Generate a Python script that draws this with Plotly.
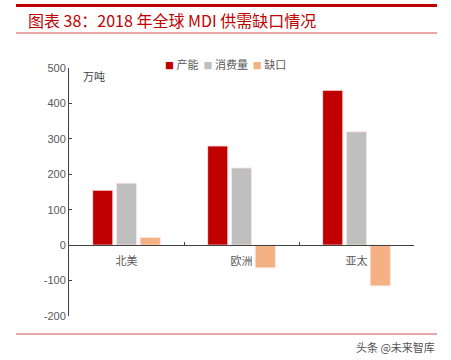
import plotly.graph_objects as go

categories = ["北美", "欧洲", "亚太"]
series_names = ["产能", "消费量", "缺口"]
capacity = [155, 280, 437]
consumption = [175, 218, 320]
gap = [22, -64, -115]
series_values = [capacity, consumption, gap]
colors = ["#C00000", "#BFBFBF", "#F4B183"]
y_ticks = [-200, -100, 0, 100, 200, 300, 400, 500]
y_tick_labels = ["-200", "-100", "0", "100", "200", "300", "400", "500"]

W, H = 451, 360
L, R, T, B = 69, 37, 68, 44
pw, ph = W - L - R, H - T - B

def px(x):
    return (x - L) / pw

def py(y):
    return (H - B - y) / ph

fig = go.Figure()
for name, vals, c in zip(series_names, series_values, colors):
    fig.add_trace(go.Bar(x=categories, y=vals, name=name,
                         marker=dict(color=c, line=dict(color="rgba(255,230,230,0.9)", width=1))))

ymin, ymax = y_ticks[0], y_ticks[-1]
fig.update_layout(
    width=W, height=H,
    margin=dict(l=L, r=R, t=T, b=B),
    paper_bgcolor="white", plot_bgcolor="white",
    barmode="group", bargap=0.38, bargroupgap=0.15,
    showlegend=False,
    font=dict(family="Noto Sans CJK SC, Liberation Sans, sans-serif", color="#595959"),
    xaxis=dict(anchor="free", position=(0 - ymin) / (ymax - ymin),
               showline=True, linecolor="#404040", linewidth=1,
               ticks="inside", ticklen=3, tickcolor="#404040", tickson="boundaries",
               ticklabelstandoff=6,
               tickfont=dict(size=11, color="#595959"), showgrid=False),
    yaxis=dict(range=[ymin, ymax], tickvals=y_ticks, ticktext=y_tick_labels,
               showline=True, linecolor="#404040",
               linewidth=1, ticks="inside", ticklen=3, tickcolor="#404040",
               showgrid=False, zeroline=False,
               tickfont=dict(size=11, family="Liberation Sans, Arial, sans-serif", color="#595959")),
)

# Title and decorative lines
fig.add_annotation(xref="paper", yref="paper", x=px(26), y=py(20), xanchor="left", yanchor="middle",
                   text="图表 38：2018 年全球 MDI 供需缺口情况", showarrow=False,
                   font=dict(size=16, color="#C00000", family="Noto Sans CJK SC"))
fig.add_shape(type="line", xref="paper", yref="paper", x0=px(16), x1=px(437), y0=py(5.5), y1=py(5.5),
              line=dict(color="#C00000", width=3))
fig.add_shape(type="line", xref="paper", yref="paper", x0=px(16), x1=px(437), y0=py(33), y1=py(33),
              line=dict(color="#D05050", width=1))
fig.add_shape(type="line", xref="paper", yref="paper", x0=px(16), x1=px(437), y0=py(334), y1=py(334),
              line=dict(color="#D05050", width=1))

# Unit label
fig.add_annotation(xref="paper", yref="paper", x=px(81), y=py(76), xanchor="left", yanchor="middle",
                   text="万吨", showarrow=False, font=dict(size=11, color="#404040"))

# Legend (manual, compact)
legend_text = "&nbsp;&nbsp;".join(
    f"<span style='color:{c};font-size:9px'>■</span> {n}" for n, c in zip(series_names, colors))
fig.add_annotation(xref="paper", yref="paper", x=px(163), y=py(64), xanchor="left", yanchor="middle",
                   text=legend_text, showarrow=False, font=dict(size=11, color="#595959"))

# Watermark
fig.add_annotation(xref="paper", yref="paper", x=px(437), y=py(347), xanchor="right", yanchor="middle",
                   text="头条 @未来智库", showarrow=False, font=dict(size=11, color="#555555"))

fig.write_html("out.html", config={"displayModeBar": False},
               post_script="document.body.style.margin='0';document.body.style.overflow='hidden';")
